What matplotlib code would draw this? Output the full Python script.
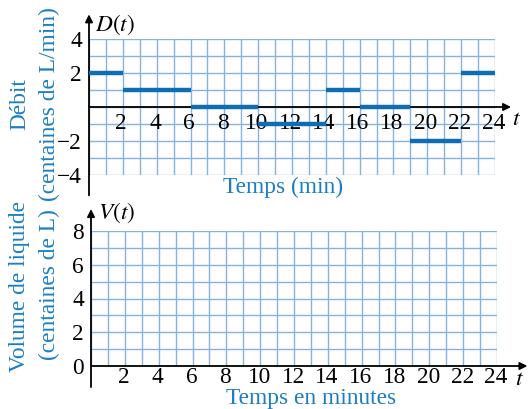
import matplotlib.pyplot as plt
from matplotlib.ticker import MultipleLocator

plt.rcParams['font.family'] = ['Liberation Serif', 'DejaVu Serif']
plt.rcParams['mathtext.fontset'] = 'stix'

# Data: debit D(t), piecewise constant (centaines de L/min)
seg_start = [0, 2, 6, 10, 14, 16, 19, 22]
seg_end = [2, 6, 10, 14, 16, 19, 22, 24]
seg_val = [2, 1, 0, -1, 1, 0, -2, 2]

x_ticks = [2, 4, 6, 8, 10, 12, 14, 16, 18, 20, 22, 24]
d_ticks = [-4, -2, 2, 4]
d_labels = ['\u22124', '\u22122', '2', '4']
v_ticks = [0, 2, 4, 6, 8]

blue_txt = '#1b7ec2'
blue_seg = '#0f6db5'
grid_col = '#86b2e0'
fs = 16.8

fig = plt.figure(figsize=(5.28, 4.09), dpi=100)
ax1 = fig.add_axes([89 / 528, 1 - 175 / 409, 406 / 528, 136 / 409])
ax2 = fig.add_axes([91 / 528, 1 - 366 / 409, 406 / 528, 135 / 409])


def setup(ax, ymin, ymax, yt, ylab):
    ax.set_xlim(0, 24)
    ax.set_ylim(ymin, ymax)
    ax.xaxis.set_major_locator(MultipleLocator(1))
    ax.yaxis.set_minor_locator(MultipleLocator(1))
    ax.set_xticklabels([])
    ax.set_yticks(yt, ylab)
    ax.tick_params(which='both', length=0, labelsize=fs, pad=5)
    ax.grid(which='both', color=grid_col, lw=1.0)
    ax.set_axisbelow(True)
    for s in ax.spines.values():
        s.set_visible(False)


setup(ax1, -4, 4, d_ticks, d_labels)
setup(ax2, 0, 8, v_ticks, [str(v) for v in v_ticks])

arrow = dict(arrowstyle='-|>', lw=1.3, color='black', mutation_scale=11,
             shrinkA=0, shrinkB=0)

# top plot axes
ax1.annotate('', xy=(0, 5.45), xytext=(0, -5.2), arrowprops=arrow, annotation_clip=False)
ax1.annotate('', xy=(24.95, 0), xytext=(0, 0), arrowprops=arrow, annotation_clip=False)
ax1.hlines(seg_val, seg_start, seg_end, color=blue_seg, lw=3.2, zorder=5)
for x in x_ticks:
    ax1.text(x - 0.1, -1.3, str(x), ha='center', va='baseline', fontsize=fs, zorder=3)
ax1.text(0.35, 4.85, '$D(t)$', ha='left', va='center', fontsize=fs)
ax1.text(25.0, -0.75, '$t$', ha='left', va='center', fontsize=fs)

# bottom plot axes
ax2.annotate('', xy=(0, 9.3), xytext=(0, -1.25), arrowprops=arrow, annotation_clip=False)
ax2.annotate('', xy=(25.8, 0), xytext=(0, 0), arrowprops=arrow, annotation_clip=False)
for x in x_ticks:
    ax2.text(x - 0.05, -1.0, str(x), ha='center', va='baseline', fontsize=fs)
ax2.text(0.4, 9.1, '$V(t)$', ha='left', va='center', fontsize=fs)
ax2.text(25.3, -0.8, '$t$', ha='center', va='center', fontsize=fs)

# axis titles
fig.text(283 / 528, 1 - 193 / 409, 'Temps (min)', ha='center', va='baseline',
         fontsize=fs, color=blue_txt)
fig.text(311 / 528, 1 - 404 / 409, 'Temps en minutes', ha='center', va='baseline',
         fontsize=fs, color=blue_txt)
fig.text(20 / 528, 1 - 104 / 409, 'Débit', rotation=90, ha='center', va='center',
         fontsize=fs, color=blue_txt)
fig.text(49 / 528, 1 - 104 / 409, '(centaines de L/min)', rotation=90, ha='center',
         va='center', fontsize=fs, color=blue_txt)
fig.text(20 / 528, 1 - 287 / 409, 'Volume de liquide', rotation=90, ha='center',
         va='center', fontsize=fs, color=blue_txt)
fig.text(49 / 528, 1 - 285 / 409, '(centaines de L)', rotation=90, ha='center',
         va='center', fontsize=fs, color=blue_txt)

fig.savefig('out.png', dpi=100)
